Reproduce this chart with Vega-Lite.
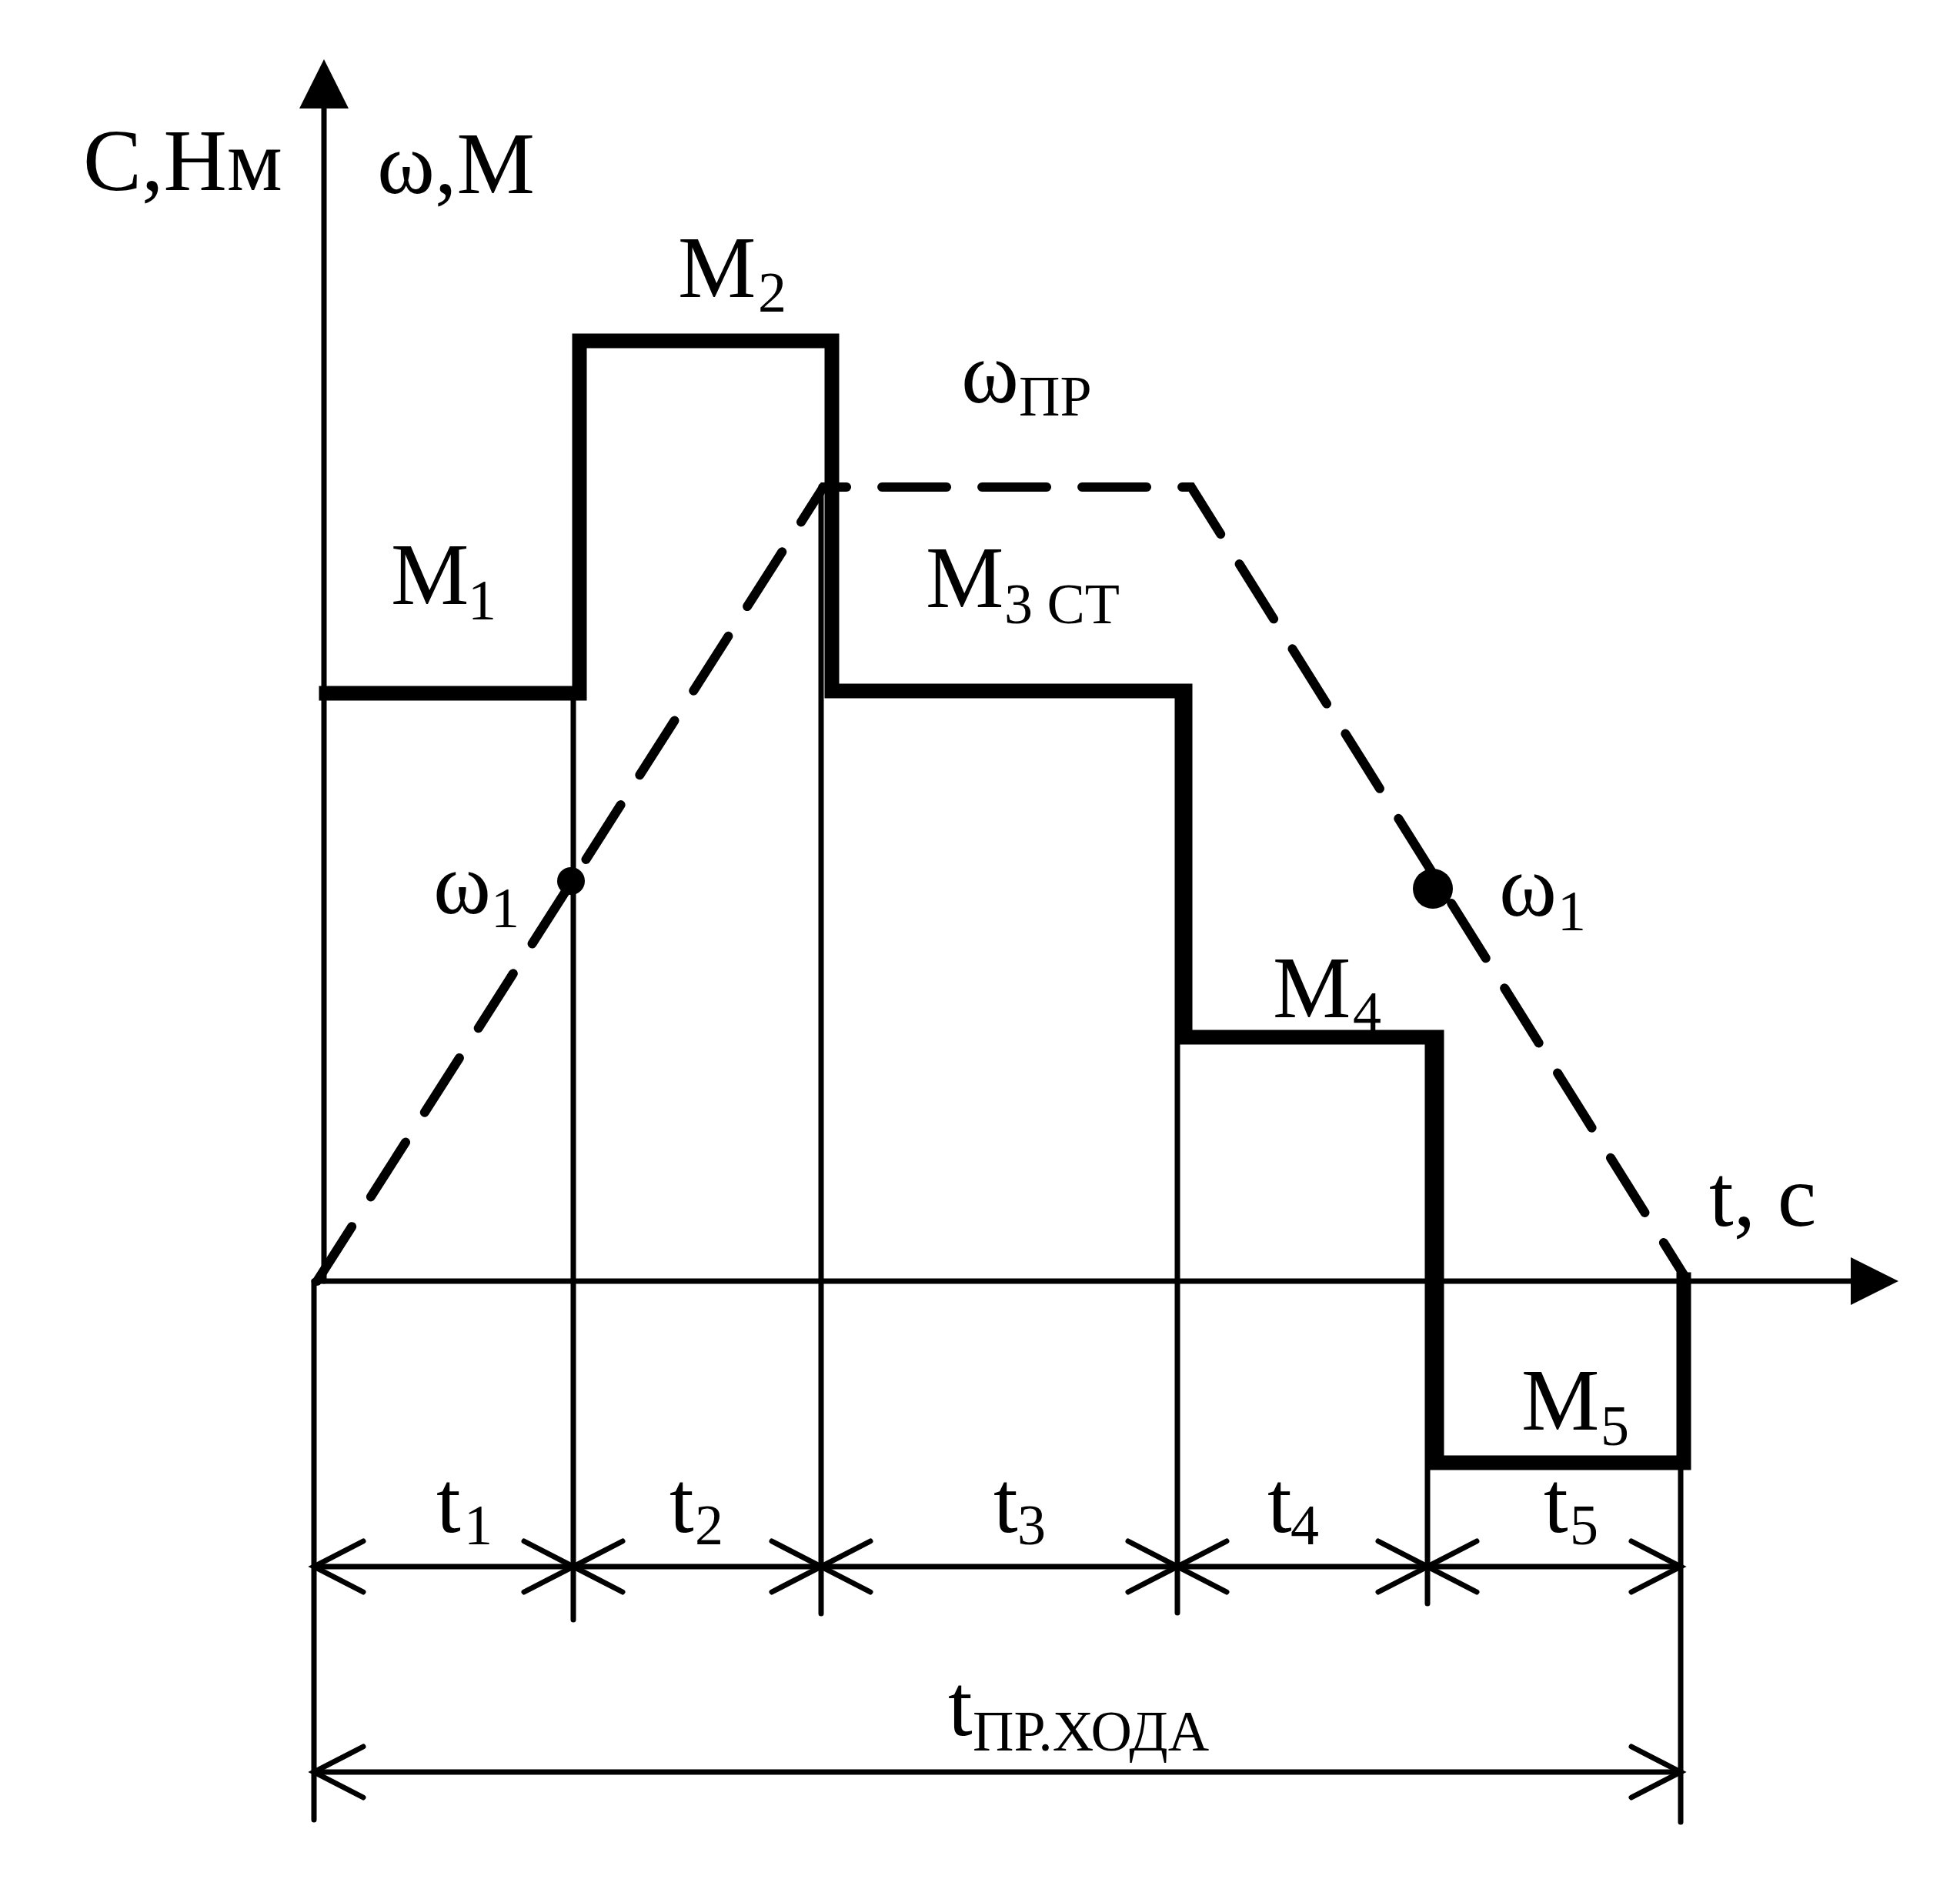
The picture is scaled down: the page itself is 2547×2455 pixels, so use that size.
{
  "$schema": "https://vega.github.io/schema/vega-lite/v6.json",
  "description": "Нагрузочная диаграмма: моменты M1..M5 и скорость ω за время прямого хода",
  "width": 2547,
  "height": 2455,
  "autosize": {"type": "fit", "contains": "padding"},
  "padding": 0,
  "background": "white",
  "config": {"view": {"stroke": null}},
  "datasets": {
    "thin": [
      {"id": "yaxis", "k": 1, "t": 0.13, "v": 0},
      {"id": "yaxis", "k": 2, "t": 0.13, "v": 15.3},
      {"id": "xaxis", "k": 1, "t": 0, "v": 0},
      {"id": "xaxis", "k": 2, "t": 20.05, "v": 0},
      {"id": "b0", "k": 1, "t": 0, "v": 0},
      {"id": "b0", "k": 2, "t": 0, "v": -7.0},
      {"id": "b1", "k": 1, "t": 3.37, "v": 7.64},
      {"id": "b1", "k": 2, "t": 3.37, "v": -4.4},
      {"id": "b2", "k": 1, "t": 6.59, "v": 10.33},
      {"id": "b2", "k": 2, "t": 6.59, "v": -4.32},
      {"id": "b3", "k": 1, "t": 11.22, "v": 7.67},
      {"id": "b3", "k": 2, "t": 11.22, "v": -4.31},
      {"id": "b4", "k": 1, "t": 14.47, "v": 3.17},
      {"id": "b4", "k": 2, "t": 14.47, "v": -4.19},
      {"id": "b5", "k": 1, "t": 17.76, "v": 0},
      {"id": "b5", "k": 2, "t": 17.76, "v": -7.03},
      {"id": "d1", "k": 1, "t": 0, "v": -3.71},
      {"id": "d1", "k": 2, "t": 17.76, "v": -3.71},
      {"id": "d2", "k": 1, "t": 0, "v": -6.38},
      {"id": "d2", "k": 2, "t": 17.76, "v": -6.38},
      {"id": "a0L", "k": 1, "t": 0.64, "v": -3.38},
      {"id": "a0L", "k": 2, "t": 0, "v": -3.71},
      {"id": "a0L", "k": 3, "t": 0.64, "v": -4.04},
      {"id": "a1R", "k": 1, "t": 2.73, "v": -3.38},
      {"id": "a1R", "k": 2, "t": 3.37, "v": -3.71},
      {"id": "a1R", "k": 3, "t": 2.73, "v": -4.04},
      {"id": "a1L", "k": 1, "t": 4.01, "v": -3.38},
      {"id": "a1L", "k": 2, "t": 3.37, "v": -3.71},
      {"id": "a1L", "k": 3, "t": 4.01, "v": -4.04},
      {"id": "a2R", "k": 1, "t": 5.95, "v": -3.38},
      {"id": "a2R", "k": 2, "t": 6.59, "v": -3.71},
      {"id": "a2R", "k": 3, "t": 5.95, "v": -4.04},
      {"id": "a2L", "k": 1, "t": 7.23, "v": -3.38},
      {"id": "a2L", "k": 2, "t": 6.59, "v": -3.71},
      {"id": "a2L", "k": 3, "t": 7.23, "v": -4.04},
      {"id": "a3R", "k": 1, "t": 10.58, "v": -3.38},
      {"id": "a3R", "k": 2, "t": 11.22, "v": -3.71},
      {"id": "a3R", "k": 3, "t": 10.58, "v": -4.04},
      {"id": "a3L", "k": 1, "t": 11.86, "v": -3.38},
      {"id": "a3L", "k": 2, "t": 11.22, "v": -3.71},
      {"id": "a3L", "k": 3, "t": 11.86, "v": -4.04},
      {"id": "a4R", "k": 1, "t": 13.83, "v": -3.38},
      {"id": "a4R", "k": 2, "t": 14.47, "v": -3.71},
      {"id": "a4R", "k": 3, "t": 13.83, "v": -4.04},
      {"id": "a4L", "k": 1, "t": 15.11, "v": -3.38},
      {"id": "a4L", "k": 2, "t": 14.47, "v": -3.71},
      {"id": "a4L", "k": 3, "t": 15.11, "v": -4.04},
      {"id": "a5R", "k": 1, "t": 17.12, "v": -3.38},
      {"id": "a5R", "k": 2, "t": 17.76, "v": -3.71},
      {"id": "a5R", "k": 3, "t": 17.12, "v": -4.04},
      {"id": "c0L", "k": 1, "t": 0.64, "v": -6.05},
      {"id": "c0L", "k": 2, "t": 0, "v": -6.38},
      {"id": "c0L", "k": 3, "t": 0.64, "v": -6.71},
      {"id": "c5R", "k": 1, "t": 17.12, "v": -6.05},
      {"id": "c5R", "k": 2, "t": 17.76, "v": -6.38},
      {"id": "c5R", "k": 3, "t": 17.12, "v": -6.71}
    ],
    "moment": [
      {"k": 1, "t": 0.16, "v": 7.64},
      {"k": 2, "t": 3.45, "v": 7.64},
      {"k": 3, "t": 3.45, "v": 12.22},
      {"k": 4, "t": 6.73, "v": 12.22},
      {"k": 5, "t": 6.73, "v": 7.67},
      {"k": 6, "t": 11.32, "v": 7.67},
      {"k": 7, "t": 11.32, "v": 3.17},
      {"k": 8, "t": 14.59, "v": 3.17},
      {"k": 9, "t": 14.59, "v": -2.36},
      {"k": 10, "t": 17.8, "v": -2.36},
      {"k": 11, "t": 17.8, "v": 0.02}
    ],
    "omega": [
      {"k": 1, "t": 0.04, "v": 0},
      {"k": 2, "t": 6.62, "v": 10.32},
      {"k": 3, "t": 11.4, "v": 10.32},
      {"k": 4, "t": 17.82, "v": 0.05}
    ],
    "dots": [
      {"name": "up", "t": 3.34, "v": 5.2},
      {"name": "down", "t": 14.54, "v": 5.1}
    ],
    "tips": [
      {"axis": "y", "t": 0.13, "v": 15.56},
      {"axis": "x", "t": 20.28, "v": 0}
    ],
    "labels": [
      {"label": "С,Нм", "t": -3.0, "v": 14.18},
      {"label": "ω,М", "t": 0.82, "v": 14.14},
      {"label": "M", "t": 4.73, "v": 12.79},
      {"label": "M", "t": 1.0, "v": 8.8},
      {"label": "ω", "t": 8.41, "v": 11.42},
      {"label": "M", "t": 7.95, "v": 8.76},
      {"label": "ω", "t": 1.55, "v": 4.78},
      {"label": "ω", "t": 15.4, "v": 4.75},
      {"label": "M", "t": 12.46, "v": 3.43},
      {"label": "M", "t": 15.69, "v": -1.93},
      {"label": "t, c", "t": 18.13, "v": 0.72},
      {"label": "t", "t": 1.59, "v": -3.26},
      {"label": "t", "t": 4.62, "v": -3.26},
      {"label": "t", "t": 8.83, "v": -3.26},
      {"label": "t", "t": 12.39, "v": -3.26},
      {"label": "t", "t": 15.98, "v": -3.26},
      {"label": "t", "t": 8.24, "v": -5.9}
    ],
    "subs": [
      {"label": "2", "t": 5.77, "v": 12.6},
      {"label": "1", "t": 2.0, "v": 8.6},
      {"label": "ПР", "t": 9.16, "v": 11.25},
      {"label": "3 СТ", "t": 8.97, "v": 8.55},
      {"label": "1", "t": 2.3, "v": 4.6},
      {"label": "1", "t": 16.16, "v": 4.56},
      {"label": "4", "t": 13.5, "v": 3.25},
      {"label": "5", "t": 16.72, "v": -2.13},
      {"label": "1", "t": 1.95, "v": -3.42},
      {"label": "2", "t": 4.95, "v": -3.42},
      {"label": "3", "t": 9.14, "v": -3.42},
      {"label": "4", "t": 12.69, "v": -3.42},
      {"label": "5", "t": 16.32, "v": -3.42},
      {"label": "ПР.ХОДА", "t": 8.56, "v": -6.1}
    ]
  },
  "encoding": {
    "x": {
      "field": "t",
      "type": "quantitative",
      "scale": {"domain": [-4.08, 21.39], "nice": false, "zero": false},
      "axis": null
    },
    "y": {
      "field": "v",
      "type": "quantitative",
      "scale": {"domain": [-7.9, 16.65], "nice": false, "zero": false},
      "axis": null
    }
  },
  "layer": [
    {
      "data": {"name": "thin"},
      "mark": {"type": "line", "color": "black", "strokeWidth": 7, "strokeCap": "round", "strokeJoin": "miter"},
      "encoding": {"detail": {"field": "id"}, "order": {"field": "k"}}
    },
    {
      "data": {"name": "omega"},
      "mark": {"type": "line", "color": "black", "strokeWidth": 12, "strokeDash": [84, 46], "strokeCap": "round"},
      "encoding": {"order": {"field": "k"}}
    },
    {
      "data": {"name": "moment"},
      "mark": {"type": "line", "color": "black", "strokeWidth": 19, "strokeCap": "square", "strokeJoin": "miter"},
      "encoding": {"order": {"field": "k"}}
    },
    {
      "data": {"name": "dots"},
      "transform": [{"filter": "datum.name === 'up'"}],
      "mark": {"type": "point", "shape": "circle", "filled": true, "opacity": 1, "color": "black", "size": 1296}
    },
    {
      "data": {"name": "dots"},
      "transform": [{"filter": "datum.name === 'down'"}],
      "mark": {"type": "point", "shape": "circle", "filled": true, "opacity": 1, "color": "black", "size": 2704}
    },
    {
      "data": {"name": "tips"},
      "transform": [{"filter": "datum.axis === 'y'"}],
      "mark": {"type": "point", "shape": "M0,-1L-1,1L1,1Z", "filled": true, "opacity": 1, "color": "black", "size": 4096}
    },
    {
      "data": {"name": "tips"},
      "transform": [{"filter": "datum.axis === 'x'"}],
      "mark": {"type": "point", "shape": "M1,0L-1,-1L-1,1Z", "filled": true, "opacity": 1, "color": "black", "size": 3844}
    },
    {
      "data": {"name": "labels"},
      "mark": {"type": "text", "font": "Liberation Serif", "fontSize": 114, "align": "left", "baseline": "alphabetic", "color": "black"},
      "encoding": {"text": {"field": "label"}}
    },
    {
      "data": {"name": "subs"},
      "mark": {"type": "text", "font": "Liberation Serif", "fontSize": 74, "align": "left", "baseline": "alphabetic", "color": "black"},
      "encoding": {"text": {"field": "label"}}
    }
  ]
}
